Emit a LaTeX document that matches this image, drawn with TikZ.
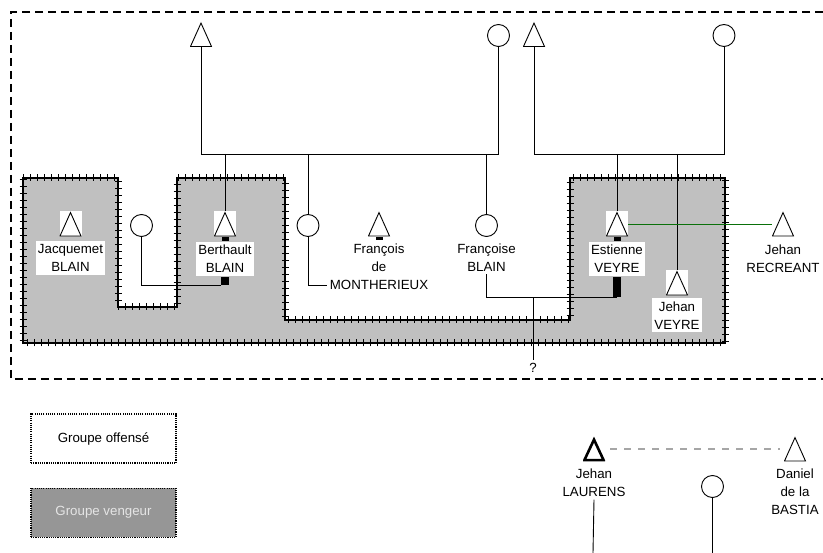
\documentclass[tikz,border=0pt]{standalone}
\usepackage{fontspec}
\setmainfont{Liberation Sans}
\usetikzlibrary{
positioning,
decorations.pathreplacing
}
\definecolor{vengegray}{HTML}{C0C0C0}
\definecolor{legendgray}{HTML}{969696}
\definecolor{bondgreen}{HTML}{0A700A}

\begin{document}
\begin{tikzpicture}[
x=1pt, y=-1pt,
line width=0.9pt,
every node/.style={font=\fontsize{13.3}{18}\selectfont},
male/.style={
rectangle,
fill=white,
inner sep=0pt,
minimum width=22pt,
minimum height=25pt,
path picture={
\draw[line width=#1]
([xshift=0.55*#1, yshift=0.55*#1]path picture bounding box.south west) --
([xshift=-0.55*#1, yshift=0.55*#1]path picture bounding box.south east) --
([yshift=-1.2*#1]path picture bounding box.north) -- cycle;
}
},
male/.default=0.9pt,
female/.style={
circle,
draw,
fill=white,
inner sep=0pt,
minimum size=22pt
},
namelbl/.style={align=center, inner xsep=2pt, inner ysep=3pt},
onwhite/.style={namelbl, fill=white},
blot/.style={fill=black, inner sep=0pt, minimum width=7pt},
vengeance/.style={
fill=vengegray,
draw,
line width=1.8pt,
postaction={draw, line width=0.8pt, decorate,
decoration={ticks, segment length=7pt, amplitude=3.5pt}}
},
outerframe/.style={dash pattern=on 8pt off 5pt, line width=1.4pt},
offbox/.style={
draw,
dash pattern=on 1.1pt off 1.1pt,
line width=1.1pt,
minimum width=145pt,
minimum height=49pt
},
vengbox/.style={offbox, fill=legendgray, text=white!90!black},
alliance/.style={draw=bondgreen},
rivalry/.style={draw=gray!70, dash pattern=on 7pt off 7pt, line width=1.2pt,
shorten <=5pt, shorten >=4pt}
]

\useasboundingbox[fill=white] (0,0) rectangle (823,553);

\draw[outerframe] (823,12) -| (11,379) -- (823,379);

\draw[vengeance] (23,178) -- (118,178) -- (118,307) -- (177,307)
-- (177,178) -- (285,178) -- (285,320) -- (570,320) -- (570,178)
-- (725,178) -- (725,343) -- (23,343) -- cycle;

% parents
\node[male] (grandpaBlain) at (201,34.5) {};
\node[female] (grandmaBlain) at (498.5,35.5) {};
\node[male] (grandpaVeyre) at (534,34.5) {};
\node[female] (grandmaVeyre) at (724,35.5) {};
\coordinate (barBlain) at (201,154);
\coordinate (barVeyre) at (534,154);

% children
\node[male] (jacquemet) at (70.5,224) {};
\node[onwhite, below=4pt of jacquemet] (jacquemetLbl) {Jacquemet\\BLAIN};

\node[female] (wifeBerthault) at (141.5,225.5) {};

\node[male] (berthault) at (225,224) {};
\node[blot, minimum height=4pt, below=0pt of berthault] (berthaultTop) {};
\node[onwhite, below=0pt of berthaultTop] (berthaultLbl) {Berthault\\BLAIN};
\node[blot, minimum width=8pt, minimum height=8pt, below=0pt of berthaultLbl]
(berthaultLow) {};

\node[female] (blainSister) at (308,225.5) {};

\node[male] (francois) at (379,224) {};
\node[blot, minimum height=3pt, below=0pt of francois] (francoisBlot) {};
\node[namelbl, below=0pt of francoisBlot] (francoisLbl)
{François\\de\\MONTHERIEUX};
\coordinate (francoisEnd) at (327,285);

\node[female] (francoise) at (486.5,225.5) {};
\node[namelbl, below=3pt of francoise] (francoiseLbl) {Françoise\\BLAIN};

\node[male] (estienne) at (617,224) {};
\node[blot, minimum height=4pt, below=0pt of estienne] (estienneTop) {};
\node[onwhite, below=0pt of estienneTop] (estienneLbl) {Estienne\\VEYRE};
\node[blot, minimum width=8pt, minimum height=20pt, below=0pt of estienneLbl]
(estienneLow) {};

\node[male] (jehanVeyre) at (677,283) {};
\node[onwhite, below=2pt of jehanVeyre] (jehanVeyreLbl) {Jehan\\VEYRE};

\node[male] (recreant) at (783,224) {};
\node[namelbl, below=4pt of recreant] (recreantLbl) {Jehan\\RECREANT};

\node (unknown) at (533,368) {?};

% legend
\node[offbox] (offense) at (103.5,438.5) {Groupe offensé};
\node[vengbox, below=24pt of offense] (revenge) {Groupe vengeur};

\node[male=2.6pt] (laurens) at (594,449) {};
\node[namelbl, below=3pt of laurens] (laurensLbl) {Jehan\\LAURENS};
\node[male] (bastia) at (795,449) {};
\node[namelbl, below=3pt of bastia] (bastiaLbl) {Daniel\\de la\\BASTIA};
\node[female] (daughter) at (712.5,486.5) {};
\coordinate (laurensDown) at (593,553);
\coordinate (daughterDown) at (712.5,553);

% links
\draw (grandpaBlain.south) -- (barBlain) -| (grandmaBlain.south);
\draw (grandpaVeyre.south) -- (barVeyre) -| (grandmaVeyre.south);
\foreach \kid in {berthault, blainSister, francoise}
\draw (barBlain -| \kid.north) -- (\kid.north);
\foreach \kid in {estienne, jehanVeyre}
\draw (barVeyre -| \kid.north) -- (\kid.north);

\draw (wifeBerthault.south) |- (berthaultLow.south west);
\draw (blainSister.south) |- (francoisEnd);
\draw (francoiseLbl.south) |- (estienneLow.south);
\draw (unknown.north) |- (estienneLow.south);
\draw[alliance] (estienne.east) -- (recreant.west);

\draw[rivalry] (laurens.east) -- (bastia.west);
\draw (laurensLbl.south) -- (laurensDown);
\draw (daughter.south) -- (daughterDown);

\end{tikzpicture}
\end{document}
